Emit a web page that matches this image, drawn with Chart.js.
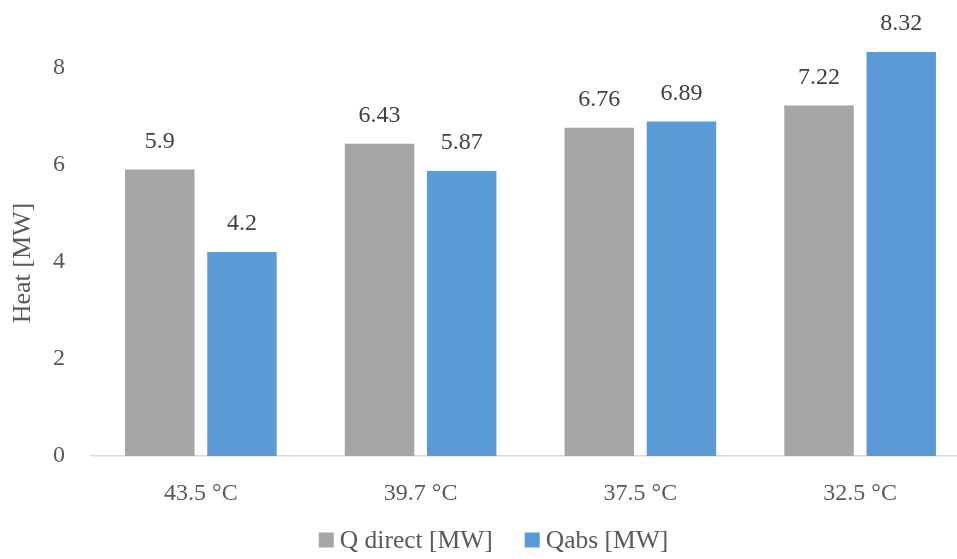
<!DOCTYPE html>
<html>
<head>
<meta charset="utf-8">
<script src="https://cdn.jsdelivr.net/npm/chart.js@4/dist/chart.umd.min.js"></script>
<style>
  html, body { margin: 0; padding: 0; background: #fff; overflow: hidden; }
  #wrap { width: 987px; height: 559px; }
</style>
</head>
<body>
<div id="wrap"><canvas id="c" width="987" height="559"></canvas></div>
<script>
// Outlet temperature cases and the two heat series (MW)
const categories = ['43.5 °C', '39.7 °C', '37.5 °C', '32.5 °C'];
const qDirect = [5.9, 6.43, 6.76, 7.22];
const qAbs = [4.2, 5.87, 6.89, 8.32];
const yTicks = [0, 2, 4, 6, 8];
const yTitle = 'Heat [MW]';

const FONT = '"Liberation Serif", "DejaVu Serif", serif';
const TEXT = '#595959';

// Writes each bar's value just above it
const valueLabels = {
  id: 'valueLabels',
  afterDatasetsDraw(chart) {
    const ctx = chart.ctx;
    ctx.save();
    ctx.font = '24px ' + FONT;
    ctx.fillStyle = '#404040';
    ctx.textAlign = 'center';
    ctx.textBaseline = 'middle';
    chart.data.datasets.forEach((ds, i) => {
      chart.getDatasetMeta(i).data.forEach((bar, j) => {
        ctx.fillText(String(ds.data[j]), bar.x, bar.y - 28);
      });
    });
    ctx.restore();
  }
};

// Vertical value-axis caption and the series key along the bottom
const captions = {
  id: 'captions',
  afterDraw(chart) {
    const ctx = chart.ctx;
    ctx.save();
    ctx.font = '26px ' + FONT;
    ctx.fillStyle = TEXT;
    ctx.textAlign = 'center';
    ctx.textBaseline = 'middle';
    ctx.translate(23, 263);
    ctx.rotate(-Math.PI / 2);
    ctx.fillText(yTitle, 0, 0);
    ctx.restore();

    // key: square swatch, small gap, series name; items centred as a row
    ctx.save();
    ctx.font = '25.5px ' + FONT;
    ctx.textBaseline = 'middle';
    ctx.textAlign = 'left';
    const box = 15, gap = 6, itemGap = 32, cy = 540;
    const items = chart.data.datasets.map(ds => ({
      text: ds.label, color: ds.backgroundColor,
      w: box + gap + ctx.measureText(ds.label).width
    }));
    const total = items.reduce((s, it) => s + it.w, 0) + itemGap * (items.length - 1);
    let x = chart.width / 2 - total / 2;
    items.forEach(it => {
      ctx.fillStyle = it.color;
      ctx.fillRect(x, cy - box / 2, box, box);
      ctx.fillStyle = TEXT;
      ctx.fillText(it.text, x + box + gap, cy + 1);
      x += it.w + itemGap;
    });
    ctx.restore();
  }
};

new Chart(document.getElementById('c'), {
  type: 'bar',
  data: {
    labels: categories,
    datasets: [
      { label: 'Q direct [MW]', data: qDirect, backgroundColor: '#A5A5A5',
        categoryPercentage: 0.748, barPercentage: 0.845 },
      { label: 'Qabs [MW]', data: qAbs, backgroundColor: '#5B9BD5',
        categoryPercentage: 0.748, barPercentage: 0.845 }
    ]
  },
  options: {
    responsive: false,
    animation: false,
    devicePixelRatio: 1,
    layout: { padding: { top: 19, right: 17, left: 0, bottom: 43 } },
    plugins: {
      tooltip: { enabled: false },
      legend: { display: false }
    },
    scales: {
      x: {
        grid: { display: false },
        border: { display: true, color: '#D9D9D9', width: 1.5 },
        ticks: { font: { family: FONT, size: 24 }, color: TEXT, padding: 15 },
        afterFit(scale) {
          scale.height = 60;
          scale.paddingLeft = 0;
          scale.paddingRight = 0;
        }
      },
      y: {
        min: 0,
        max: 9,
        grid: { display: false },
        border: { display: false },
        afterBuildTicks(scale) { scale.ticks = yTicks.map(v => ({ value: v })); },
        ticks: { font: { family: FONT, size: 24 }, color: TEXT, padding: 18 },
        afterFit(scale) {
          scale.width = 91;
          scale.paddingTop = 0;
          scale.paddingBottom = 0;
        }
      }
    }
  },
  plugins: [valueLabels, captions]
});
</script>
</body>
</html>
